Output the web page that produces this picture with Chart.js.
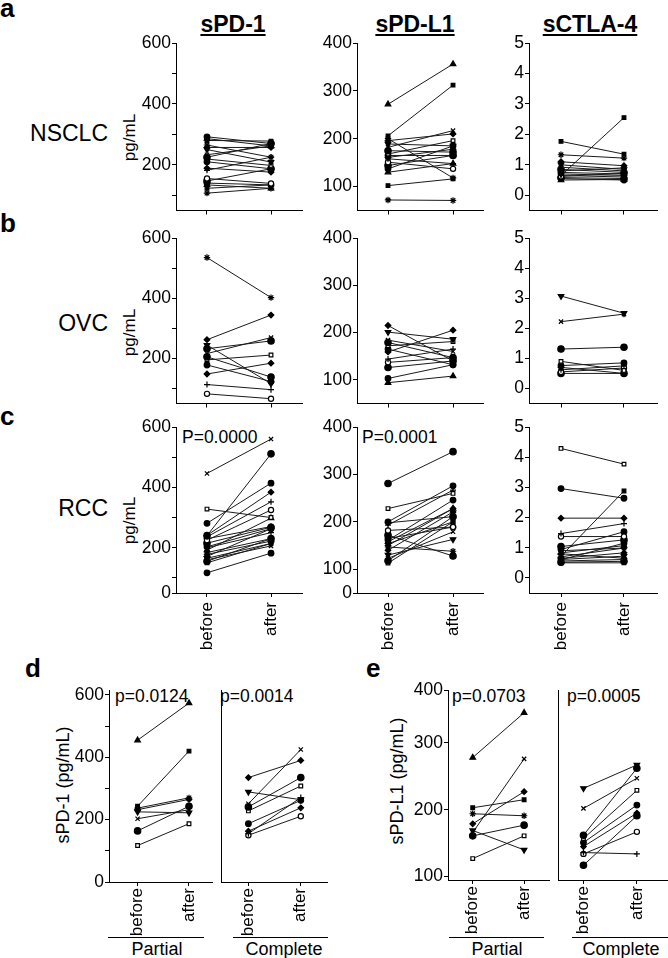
<!DOCTYPE html>
<html><head><meta charset="utf-8">
<script src="https://cdn.jsdelivr.net/npm/chart.js@4.4.1/dist/chart.umd.min.js"></script>
<style>
html,body{margin:0;padding:0;background:#fff;}
#root{position:relative;width:668px;height:958px;overflow:hidden;font-family:'Liberation Sans',Arial,Helvetica,sans-serif;color:#000;background:#fff;}
.t{position:absolute;white-space:nowrap;line-height:1;color:#000;}
.b{font-weight:bold;}
.ttl{font-weight:bold;font-size:23px;text-decoration:underline;text-decoration-thickness:2px;text-underline-offset:2px;width:140px;text-align:center;}
.rot{transform:rotate(-90deg);text-align:center;}
.hl{position:absolute;height:1px;background:#000;}
.cw{position:absolute;}
</style></head><body><div id="root">
<div class="t b" style="left:0px;top:-5px;font-size:26px">a</div>
<div class="t b" style="left:0px;top:210px;font-size:26px">b</div>
<div class="t b" style="left:0px;top:403px;font-size:26px">c</div>
<div class="t b" style="left:25px;top:655px;font-size:26px">d</div>
<div class="t b" style="left:366px;top:655px;font-size:26px">e</div>

<div class="t ttl" style="left:163px;top:13px">sPD-1</div>
<div class="t ttl" style="left:345px;top:13px">sPD-L1</div>
<div class="t ttl" style="left:520px;top:13px">sCTLA-4</div>

<div class="t" style="left:0px;width:108px;text-align:right;top:122px;font-size:23px">NSCLC</div>
<div class="t" style="left:0px;width:108px;text-align:right;top:312px;font-size:23px">OVC</div>
<div class="t" style="left:0px;width:108px;text-align:right;top:497px;font-size:23px">RCC</div>

<div class="t rot" style="left:79px;top:129px;width:100px;font-size:17px">pg/mL</div>
<div class="t rot" style="left:79px;top:324px;width:100px;font-size:17px">pg/mL</div>
<div class="t rot" style="left:79px;top:512px;width:100px;font-size:17px">pg/mL</div>
<div class="t rot" style="left:-7px;top:776px;width:140px;font-size:18px">sPD-1 (pg/mL)</div>
<div class="t rot" style="left:327px;top:772px;width:140px;font-size:18px">sPD-L1 (pg/mL)</div>

<div class="t" style="left:182px;top:429px;font-size:17.5px">P=0.0000</div>
<div class="t" style="left:362px;top:429px;font-size:17.5px">P=0.0001</div>
<div class="t" style="left:115px;top:688px;font-size:17.5px">p=0.0124</div>
<div class="t" style="left:220px;top:688px;font-size:17.5px">p=0.0014</div>
<div class="t" style="left:452px;top:688px;font-size:17.5px">p=0.0703</div>
<div class="t" style="left:567px;top:688px;font-size:17.5px">p=0.0005</div>

<div class="hl" style="left:108px;width:96px;top:937px"></div>
<div class="hl" style="left:233px;width:95px;top:937px"></div>
<div class="hl" style="left:449px;width:95px;top:937px"></div>
<div class="hl" style="left:572px;width:96px;top:937px"></div>
<div class="t" style="left:97px;width:120px;text-align:center;top:940px;font-size:18px">Partial</div>
<div class="t" style="left:224px;width:120px;text-align:center;top:940px;font-size:18px">Complete</div>
<div class="t" style="left:437px;width:120px;text-align:center;top:940px;font-size:18px">Partial</div>
<div class="t" style="left:561px;width:120px;text-align:center;top:940px;font-size:18px">Complete</div>
</div>
<script>
// ---------- data ----------
const xCats = ['before', 'after'];

const nsclcPd1Before = [292, 286, 280, 265, 257, 250, 233, 225, 219, 210, 189, 182, 155, 147, 140, 134, 123, 107];
const nsclcPd1After  = [270, 262, 278, 225, 257, 209, 262, 270, 198, 187, 176, 225, 139, 187, 134, 123, 134, 123];
const nsclcPdl1Before = [272, 206, 200, 196, 189, 182, 175, 168, 165, 161, 158, 151, 144, 137, 130, 102, 72];
const nsclcPdl1After  = [356, 312, 118, 210, 185, 217, 172, 196, 165, 178, 148, 137, 165, 185, 148, 116, 71];
const nsclcCtla4Before = [1.77, 1.33, 1.10, 1.00, 0.92, 0.85, 0.80, 0.75, 0.70, 0.65, 0.62, 0.58, 0.55, 0.50, 0.65];
const nsclcCtla4After  = [1.35, 1.22, 0.97, 0.85, 0.80, 0.75, 0.90, 0.70, 0.65, 0.60, 0.72, 0.55, 0.50, 0.52, 2.55];

const ovcPd1Before = [535, 262, 244, 216, 205, 195, 178, 148, 113, 82, 232];
const ovcPd1After  = [402, 344, 116, 269, 138, 211, 123, 184, 96, 66, 258];
const ovcPdl1Before = [215, 201, 184, 179, 172, 165, 159, 144, 137, 126, 103, 94];
const ovcPdl1After  = [140, 186, 160, 147, 181, 132, 205, 165, 147, 140, 132, 108];
const ovcCtla4Before = [3.07, 2.22, 1.31, 0.90, 0.76, 0.70, 0.62, 0.55, 0.50];
const ovcCtla4After  = [2.50, 2.47, 1.37, 0.60, 0.85, 0.50, 0.75, 0.68, 0.50];

const rccPd1Before = [446, 240, 328, 281, 241, 236, 225, 215, 203, 192, 184, 178, 171, 165, 160, 155, 150, 117, 230, 200];
const rccPd1After  = [560, 511, 300, 414, 384, 352, 325, 268, 263, 298, 230, 222, 263, 214, 206, 230, 214, 182, 270, 250];
const rccPdl1Before = [281, 228, 200, 198, 193, 182, 172, 161, 158, 154, 147, 140, 130, 123, 118, 113, 165, 150];
const rccPdl1After  = [348, 260, 276, 211, 267, 189, 128, 246, 228, 200, 138, 221, 163, 179, 211, 200, 189, 228];
const rccCtla4Before = [4.29, 2.96, 1.98, 1.47, 1.37, 1.04, 0.94, 0.83, 0.72, 0.70, 0.65, 0.61, 0.56, 0.52, 0.50, 0.60, 0.80, 0.90];
const rccCtla4After  = [3.77, 2.64, 1.98, 1.80, 1.37, 1.26, 1.53, 1.07, 2.88, 0.99, 0.83, 0.72, 0.61, 0.55, 0.50, 1.15, 0.65, 0.99];

const partialPd1Before  = [455, 243, 237, 232, 225, 203, 164, 117];
const partialPd1After   = [574, 420, 270, 265, 222, 232, 243, 187];
const completePd1Before = [335, 289, 251, 241, 228, 187, 163, 155, 150];
const completePd1After  = [390, 264, 425, 335, 308, 262, 238, 271, 211];
const partialPdl1Before  = [278, 203, 194, 179, 169, 166, 161, 127];
const partialPdl1After   = [345, 215, 191, 227, 140, 276, 177, 161];
const completePdl1Before = [232, 202, 162, 157, 151, 145, 136, 134, 117];
const completePdl1After  = [267, 247, 262, 229, 207, 195, 134, 167, 191];

// ---------- tick labels ----------
const pd1Ticks = [100, 200, 300, 400, 500, 600];
const pd1TickLabels = ['', '200', '', '400', '', '600'];
const pdl1Ticks = [100, 200, 300, 400];
const pdl1TickLabels = ['100', '200', '300', '400'];
const ctla4Ticks = [0, 1, 2, 3, 4, 5];
const ctla4TickLabels = ['0', '1', '2', '3', '4', '5'];
const rccPd1Ticks = [50, 100, 200, 300, 400, 500, 600];
const rccPd1TickLabels = ['0', '', '200', '', '400', '', '600'];
const rccPdl1Ticks = [50, 100, 200, 300, 400];
const rccPdl1TickLabels = ['0', '100', '200', '300', '400'];
const respPd1Ticks = [0, 100, 200, 300, 400, 500, 600];
const respPd1TickLabels = ['0', '', '200', '', '400', '', '600'];
const respPdl1Ticks = [100, 200, 300, 379];
const respPdl1TickLabels = ['100', '200', '300', '400'];

// ---------- drawing ----------
Chart.defaults.font.family = "'Liberation Sans', Arial, Helvetica, sans-serif";
Chart.defaults.color = '#000';
const root = document.getElementById('root');

const MARKS = [
  {s:'circle'}, {s:'triangle', r:3.2}, {s:'rect', r:2.6}, {s:'star', r:3.2}, {s:'rectRot'},
  {s:'triangle', rot:180, r:3.2}, {s:'crossRot', r:3}, {s:'circle', r:3.2}, {s:'rect', hollow:true, r:2.6},
  {s:'circle'}, {s:'rectRot'}, {s:'cross', r:3}, {s:'circle', hollow:true, r:2.6}, {s:'circle', r:3.2}
];

function makeDatasets(before, after, off) {
  return before.map((b, i) => {
    const m = MARKS[(i + off) % MARKS.length];
    return {
      data: [{x: 0, y: b}, {x: 1, y: after[i]}],
      showLine: true, borderColor: '#1a1a1a', borderWidth: 1,
      pointStyle: m.s, pointRotation: m.rot || 0, pointRadius: m.r || 2.8,
      pointBackgroundColor: m.hollow ? '#fff' : '#000', pointBorderColor: '#000', pointBorderWidth: 1.2,
      clip: false
    };
  });
}

function panel(g, before, after, ticks, labels) {
  const padL = g.padL, padR = g.padR ?? 6, padT = g.padT ?? 14, padB = g.padB;
  const cw = g.right - g.left, ch = g.bottom - g.top;
  const W = cw + padL + padR, H = ch + padT + padB;
  const wrap = document.createElement('div');
  wrap.className = 'cw';
  wrap.style.left = (g.left - padL) + 'px';
  wrap.style.top = (g.top - padT) + 'px';
  wrap.style.width = W + 'px';
  wrap.style.height = H + 'px';
  const cv = document.createElement('canvas');
  cv.width = W; cv.height = H;
  cv.style.width = W + 'px'; cv.style.height = H + 'px';
  wrap.appendChild(cv);
  root.appendChild(wrap);
  const showY = g.yLabels !== false;
  new Chart(cv, {
    type: 'scatter',
    data: {datasets: makeDatasets(before, after, g.mark || 0)},
    options: {
      responsive: false, animation: false, devicePixelRatio: 1, events: [],
      layout: {padding: {top: padT, right: padR, left: 0, bottom: 0}},
      plugins: {legend: {display: false}, tooltip: {enabled: false}},
      scales: {
        x: {
          type: 'linear', min: g.xmin, max: g.xmax,
          afterBuildTicks: s => { s.ticks = [{value: 0}, {value: 1}]; },
          afterFit: s => { s.height = padB; },
          ticks: {autoSkip: false, minRotation: 90, maxRotation: 90, padding: g.xPad ?? 4,
                  font: {size: 17}, callback: (v, i) => g.xLabels ? xCats[i] : ''},
          grid: {drawOnChartArea: false, drawTicks: true, tickLength: 4, color: '#000', lineWidth: 1},
          border: {display: true, color: '#000', width: 1}
        },
        y: {
          type: 'linear', min: g.ymin, max: g.ymax,
          afterBuildTicks: s => { s.ticks = ticks.map(v => ({value: v})); },
          afterFit: s => { s.width = padL; },
          ticks: {display: showY, autoSkip: false, padding: 1, font: {size: 17.5},
                  callback: (v, i) => labels[i]},
          grid: {drawOnChartArea: false, drawTicks: showY, tickLength: 4, color: '#000'},
          border: {display: true, color: '#000', width: 1}
        }
      }
    }
  });
}

const cols = [
  {left: 176, right: 302, xmin: -0.484, xmax: 1.484},
  {left: 357, right: 483, xmin: -0.477, xmax: 1.461},
  {left: 529, right: 657, xmin: -0.508, xmax: 1.524}
];
const rows = [
  {top: 43, bottom: 212, padB: 10, xLabels: false},
  {top: 238, bottom: 405, padB: 10, xLabels: false},
  {top: 427, bottom: 593, padB: 70, xLabels: true, xPad: 5}
];
const grid3 = [
  [[nsclcPd1Before, nsclcPd1After, pd1Ticks, pd1TickLabels, 50, 600],
   [nsclcPdl1Before, nsclcPdl1After, pdl1Ticks, pdl1TickLabels, 50, 400],
   [nsclcCtla4Before, nsclcCtla4After, ctla4Ticks, ctla4TickLabels, -0.5, 5]],
  [[ovcPd1Before, ovcPd1After, pd1Ticks, pd1TickLabels, 50, 600],
   [ovcPdl1Before, ovcPdl1After, pdl1Ticks, pdl1TickLabels, 50, 400],
   [ovcCtla4Before, ovcCtla4After, ctla4Ticks, ctla4TickLabels, -0.5, 5]],
  [[rccPd1Before, rccPd1After, rccPd1Ticks, rccPd1TickLabels, 50, 600],
   [rccPdl1Before, rccPdl1After, rccPdl1Ticks, rccPdl1TickLabels, 50, 400],
   [rccCtla4Before, rccCtla4After, ctla4Ticks, ctla4TickLabels, -0.5, 5]]
];
grid3.forEach((row, r) => row.forEach((p, c) => {
  const g = Object.assign({}, cols[c], rows[r], {padL: 44, ymin: p[4], ymax: p[5], mark: r * 3 + c});
  panel(g, p[0], p[1], p[2], p[3]);
}));

// panel d
panel({left: 109, right: 218, top: 690, bottom: 882, xmin: -0.556, xmax: 1.463, ymin: 0, ymax: 616,
       padL: 44, padR: 0, padB: 60, xLabels: true, xPad: 2, mark: 1},
      partialPd1Before, partialPd1After, respPd1Ticks, respPd1TickLabels);
panel({left: 218, right: 327, top: 690, bottom: 882, xmin: -0.519, xmax: 1.5, ymin: 0, ymax: 616,
       padL: 2, padR: 6, padB: 60, xLabels: true, xPad: 2, yLabels: false, mark: 4},
      completePd1Before, completePd1After, respPd1Ticks, respPd1TickLabels);
// panel e
panel({left: 448, right: 555, top: 690, bottom: 880, xmin: -0.481, xmax: 1.5, ymin: 95, ymax: 379,
       padL: 44, padR: 0, padB: 60, xLabels: true, xPad: 2, mark: 1},
      partialPdl1Before, partialPdl1After, respPdl1Ticks, respPdl1TickLabels);
panel({left: 555, right: 667, top: 690, bottom: 880, xmin: -0.473, xmax: 1.564, ymin: 95, ymax: 379,
       padL: 2, padR: 6, padB: 60, xLabels: true, xPad: 2, yLabels: false, mark: 5},
      completePdl1Before, completePdl1After, respPdl1Ticks, respPdl1TickLabels);
</script>
</body></html>
